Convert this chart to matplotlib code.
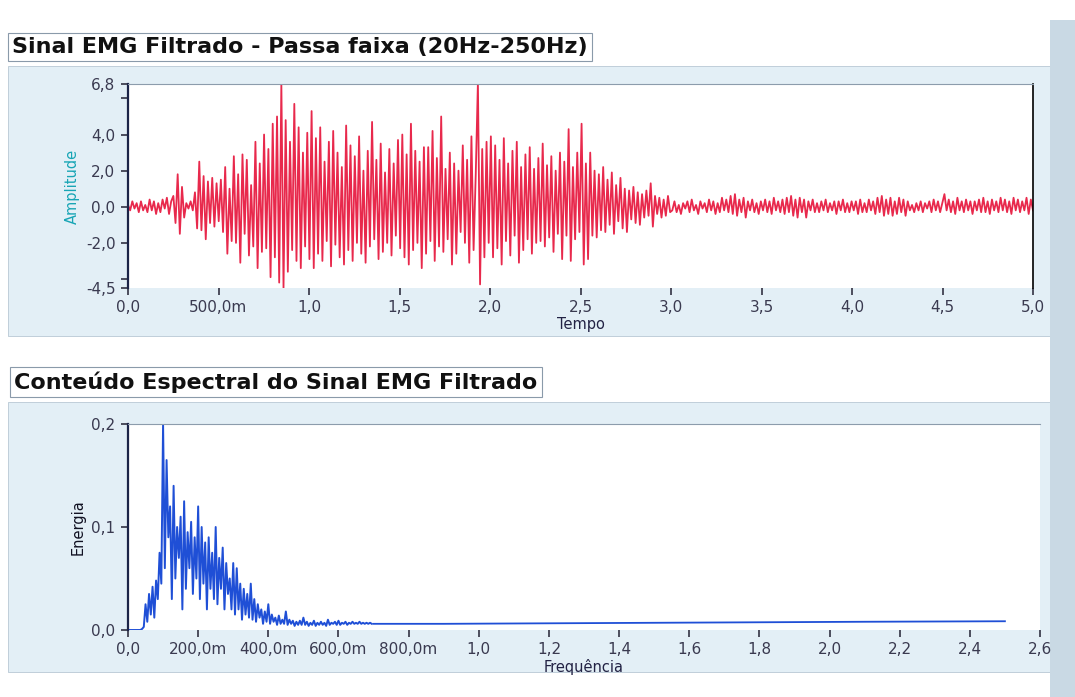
import numpy as np
import matplotlib
matplotlib.use('Agg')
import matplotlib.pyplot as plt
from matplotlib.patches import Rectangle

# ---------------------------------------------------------------
# data
# filtered EMG signal, 42 samples per half second, 0..5 s
amp_00 = [0.1,-0.2,0.3,-0.1,0.2,-0.3,0.3,-0.2,0.1,-0.3,0.4,-0.2,0.3,-0.4,0.2,-0.3,0.4,-0.1,0.5,-0.4,0.3,
          0.6,-0.9,1.8,-1.5,1.1,-0.6,0.2,-0.1,0.3,-0.2,
          0.8,-1.2,2.5,-1.3,1.7,-1.8,1.4,-0.9,1.6,-1.1,1.3]
amp_05 = [-0.8,1.5,-1.4,2.2,-2.6,1.0,-1.9,2.8,-2.0,1.8,-3.1,2.9,-1.5,2.6,-2.7,1.2,-2.2,3.6,-3.4,2.4,
          -2.5,4.0,-2.3,3.2,-3.9,4.6,-2.8,5.0,-4.2,6.8,-4.5,4.8,-3.6,3.6,-2.4,5.7,-3.0,4.4,-3.4,3.0,-2.2,4.1]
amp_10 = [-2.9,5.3,-3.4,3.8,-2.6,4.4,-3.0,2.5,-1.9,3.6,
          -3.3,4.2,-2.1,3.0,-2.8,2.2,-3.2,4.5,-2.4,3.4,
          -3.0,2.8,-2.0,3.9,-2.6,2.0,-3.1,3.1,-2.2,4.7,
          -1.8,2.6,-2.9,3.5,-2.5,1.9,-2.0,3.2,-2.7,2.4,
          -1.6,3.7]
amp_15 = [-2.3,4.0,-2.8,2.9,-3.2,4.6,-2.4,3.1,-2.0,2.5,
          -3.4,3.3,-2.6,3.3,-1.9,4.2,-3.0,2.7,-2.2,5.0,
          -2.5,2.1,-1.8,3.0,-3.2,2.4,-2.6,2.0,-1.4,3.4,
          -2.0,2.6,-3.1,3.9,-2.4,1.8,6.9,-4.3,3.2,-2.8,
          3.6,-2.0]
amp_20 = [3.9,-2.8,3.4,-2.3,2.6,-3.2,3.8,-1.9,2.4,-2.7,
          3.1,-1.6,3.6,-3.1,2.2,-2.4,2.9,-1.8,3.3,-2.6,
          2.1,-2.0,2.7,-1.9,3.5,-2.2,2.3,-1.7,2.8,-2.5,
          2.0,-1.5,3.0,-2.9,2.5,-1.6,4.3,-3.0,2.2,-1.8,
          3.0,-1.4]
amp_25 = [4.6,-3.2,2.4,-2.9,3.0,-1.6,2.0,-1.7,1.8,-1.3,
          2.2,-1.4,1.5,-1.0,1.9,-1.5,1.2,-0.8,1.6,-1.2,
          1.0,-1.4,0.9,-0.7,1.1,-0.9,0.8,-1.0,0.7,-0.6,
          0.9,-0.5,1.3,-1.1,0.6,-0.4,0.5,-0.6,0.4,-0.5,
          0.6,-0.3]
amp_30 = [-0.2,0.3,-0.3,0.1,-0.4,0.2,-0.1,0.3,-0.3,0.4,
          -0.2,0.1,-0.4,0.3,-0.1,0.2,-0.3,0.4,-0.2,0.3,
          -0.4,0.2,-0.3,0.5,-0.2,0.4,-0.3,0.6,-0.4,0.7,
          -0.5,0.4,-0.3,0.5,-0.6,0.3,-0.2,0.4,-0.3,0.2,
          -0.4,0.3]
amp_35 = [-0.2,0.4,-0.3,0.3,-0.4,0.5,-0.2,0.3,-0.3,0.4,
          -0.4,0.5,-0.3,0.6,-0.5,0.4,-0.6,0.5,-0.3,0.4,
          -0.6,0.3,-0.2,0.4,-0.3,0.2,-0.3,0.3,-0.2,0.4,
          -0.3,0.2,-0.2,0.3,-0.4,0.3,-0.2,0.4,-0.3,0.2,
          -0.3,0.3]
amp_40 = [-0.2,0.3,-0.4,0.4,-0.3,0.2,-0.3,0.4,-0.2,0.3,
          -0.4,0.5,-0.3,0.6,-0.5,0.4,-0.4,0.5,-0.5,0.3,
          -0.4,0.5,-0.3,0.4,-0.5,0.3,-0.2,0.1,-0.3,0.2,
          -0.2,0.3,-0.3,0.2,-0.1,0.3,-0.3,0.4,-0.2,0.3,
          -0.3,0.2]
amp_45 = [0.7,-0.2,0.4,-0.3,0.3,-0.4,0.5,-0.2,0.3,-0.3,
          0.4,-0.2,0.3,-0.4,0.3,-0.2,0.4,-0.3,0.5,-0.3,
          0.3,-0.4,0.4,-0.2,0.3,-0.3,0.5,-0.2,0.4,-0.3,
          0.3,-0.4,0.5,-0.2,0.4,-0.3,0.3,-0.2,0.5,-0.4,
          0.4,-0.2]

# spectrum, dense part 0..0.695 in steps of 0.005
spec_dense = [0,0,0,0,0,0,0,0,0.001,0.003,
              0.025,0.008,0.035,0.015,0.042,0.012,0.048,0.03,0.075,0.045,
              0.2,0.06,0.165,0.09,0.12,0.03,0.14,0.05,0.1,0.07,
              0.11,0.02,0.125,0.04,0.095,0.06,0.105,0.035,0.09,0.05,
              0.12,0.03,0.1,0.045,0.085,0.02,0.09,0.04,0.075,0.03,
              0.1,0.025,0.07,0.04,0.08,0.02,0.065,0.035,0.05,0.02,
              0.065,0.015,0.06,0.02,0.045,0.01,0.04,0.015,0.035,0.012,
              0.045,0.01,0.03,0.008,0.025,0.012,0.02,0.006,0.018,0.008,
              0.025,0.006,0.015,0.008,0.012,0.005,0.014,0.006,0.01,0.006,
              0.018,0.005,0.01,0.006,0.009,0.004,0.008,0.005,0.009,0.005,
              0.012,0.005,0.008,0.004,0.007,0.005,0.009,0.004,0.007,0.005,
              0.008,0.005,0.007,0.004,0.01,0.005,0.007,0.006,0.008,0.005,
              0.009,0.005,0.007,0.006,0.008,0.005,0.007,0.006,0.008,0.006,
              0.007,0.006,0.008,0.006,0.007,0.006,0.007,0.006,0.007,0.006]
spec_tail_f = [0.7, 0.9, 1.2, 1.5, 1.8, 2.1, 2.5]
spec_tail = [0.006, 0.006, 0.0065, 0.007, 0.0075, 0.008, 0.0085]

top_xticks = [0, 0.5, 1.0, 1.5, 2.0, 2.5, 3.0, 3.5, 4.0, 4.5, 5.0]
top_xlabels = ['0,0', '500,0m', '1,0', '1,5', '2,0', '2,5', '3,0', '3,5', '4,0', '4,5', '5,0']
top_yticks = [-4.5, -4.0, -2.0, 0.0, 2.0, 4.0, 6.0, 6.8]
top_ylabels = ['-4,5', '', '-2,0', '0,0', '2,0', '4,0', '', '6,8']
bot_xticks = [0, 0.2, 0.4, 0.6, 0.8, 1.0, 1.2, 1.4, 1.6, 1.8, 2.0, 2.2, 2.4, 2.6]
bot_xlabels = ['0,0', '200,0m', '400,0m', '600,0m', '800,0m', '1,0', '1,2', '1,4',
               '1,6', '1,8', '2,0', '2,2', '2,4', '2,6']
bot_yticks = [0.0, 0.1, 0.2]
bot_ylabels = ['0,0', '0,1', '0,2']

#----------------------------------------------------------------
W, H = 1075, 697
PANEL = '#e3eff6'
TICKC = '#3a3a50'

def fbox(left, top, right, bottom):
	'''pixel box (top-left origin) -> figure fraction rect'''
	return [left / W, 1 - bottom / H, (right - left) / W, (bottom - top) / H]

def style_axis(ax):
	ax.set_facecolor('white')
	ax.spines['bottom'].set_visible(False)
	ax.spines['left'].set_color('#1c2448')
	ax.spines['left'].set_linewidth(1.6)
	ax.spines['top'].set_color('#8c9cac')
	ax.spines['top'].set_linewidth(0.8)
	ax.tick_params(direction='out', length=5, width=1.1, color='#222233',
				   labelsize=11, labelcolor=TICKC, pad=4)

fig = plt.figure(figsize=(W / 100, H / 100), dpi=100, facecolor='white')

# panel backgrounds
for (l, t, r, b) in [(8, 66, 1050, 336), (8, 402, 1050, 672)]:
	x, y, w, h = fbox(l, t, r, b)
	fig.add_artist(Rectangle((x, y), w, h, transform=fig.transFigure,
							 facecolor=PANEL, edgecolor='#b8c8d4', lw=0.6, zorder=0))
x, y, w, h = fbox(1050, 20, 1075, 697)
fig.add_artist(Rectangle((x, y), w, h, transform=fig.transFigure,
						 facecolor='#c9d9e4', edgecolor='none', zorder=0))

# ---- top graph
time = np.linspace(0, 5, 420)
amp = amp_00 + amp_05 + amp_10 + amp_15 + amp_20 + amp_25 + amp_30 + amp_35 + amp_40 + amp_45

ax1 = fig.add_axes(fbox(128, 84, 1033, 288))
style_axis(ax1)
ax1.spines['right'].set_color('black')
ax1.spines['right'].set_linewidth(1.2)
ax1.plot(time, amp, color='#e8294c', lw=1.3)
ax1.set_xlim(0, 5)
ax1.set_ylim(-4.5, 6.8)
ax1.set_xticks(top_xticks)
ax1.set_xticklabels(top_xlabels)
ax1.set_yticks(top_yticks)
ax1.set_yticklabels(top_ylabels)
ax1.set_xlabel('Tempo', fontsize=10.5, color='#222244', labelpad=1)
ax1.set_ylabel('Amplitude', fontsize=10.5, color='#17a5b5', labelpad=4)

fig.text(12 / W, 1 - 47 / H, 'Sinal EMG Filtrado - Passa faixa (20Hz-250Hz)',
		 fontsize=16, fontweight='bold', color='#111111', va='center', ha='left',
		 bbox=dict(boxstyle='square,pad=0.2', facecolor='white', edgecolor='#8a9aaa', lw=0.8))

# ---- bottom graph
freq = np.arange(len(spec_dense)) * 0.005
ax2 = fig.add_axes(fbox(128, 424, 1040, 630))
style_axis(ax2)
ax2.spines['right'].set_visible(False)
ax2.plot(freq, spec_dense, color='#1f4fd6', lw=1.4)
ax2.plot(spec_tail_f, spec_tail, color='#1f4fd6', lw=1.3)
ax2.set_xlim(0, 2.6)
ax2.set_ylim(0, 0.2)
ax2.set_xticks(bot_xticks)
ax2.set_xticklabels(bot_xlabels)
ax2.set_yticks(bot_yticks)
ax2.set_yticklabels(bot_ylabels)
ax2.set_xlabel('Frequência', fontsize=10.5, color='#222244', labelpad=1)
ax2.set_ylabel('Energia', fontsize=10.5, color='#111122', labelpad=4)

fig.text(14 / W, 1 - 382 / H, 'Conteúdo Espectral do Sinal EMG Filtrado',
		 fontsize=16, fontweight='bold', color='#111111', va='center', ha='left',
		 bbox=dict(boxstyle='square,pad=0.2', facecolor='white', edgecolor='#8a9aaa', lw=0.8))

fig.savefig('out.png', dpi=100, facecolor=fig.get_facecolor())
